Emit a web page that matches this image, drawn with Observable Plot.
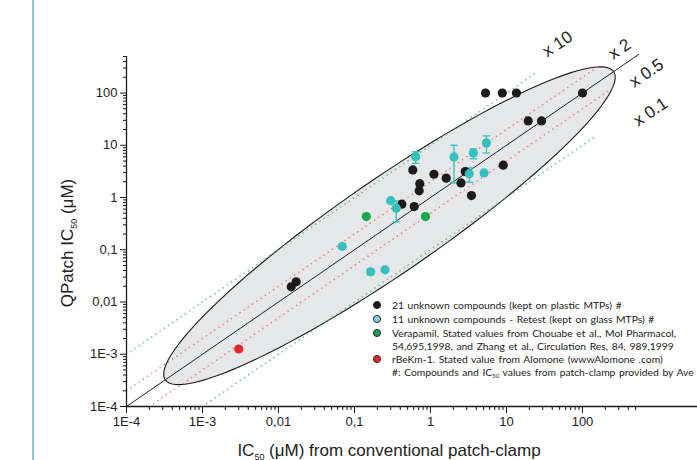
<!DOCTYPE html>
<html><head><meta charset="utf-8">
<script src="https://cdn.jsdelivr.net/npm/d3@7"></script>
<script src="https://cdn.jsdelivr.net/npm/@observablehq/plot@0.6"></script>
<style>
body{margin:0;background:#fff;}
#wrap{position:relative;width:697px;height:460px;overflow:hidden;font-family:"Liberation Sans",Arial,sans-serif;color:#222;}
#bar{position:absolute;left:32px;top:0;width:2px;height:460px;background:#8fc4d0;}
#chart{position:absolute;left:0;top:0;}
.title{position:absolute;font-size:17px;white-space:nowrap;color:#222;}
.sub{font-size:9px;vertical-align:-4px;}
#legend{position:absolute;left:370px;top:0;font-family:Lato,"Liberation Sans",sans-serif;font-size:10.3px;color:#222;}
.row{position:absolute;left:0;white-space:nowrap;height:14px;line-height:14px;}
.mk{position:absolute;left:3px;top:3px;width:8px;height:8px;border-radius:50%;border:0.8px solid #222;box-sizing:border-box;}
.tx{position:absolute;left:22px;top:0;word-spacing:1px;}
</style></head>
<body><div id="wrap"><div id="bar"></div><div id="chart"></div>
<div class="title" id="ytitle" style="left:68px;top:243px;transform:translate(-50%,-50%) rotate(-90deg);">QPatch IC<span class="sub">50</span> (μM)</div>
<div class="title" id="xtitle" style="left:389px;top:451px;transform:translate(-50%,-50%);">IC<span class="sub">50</span> (μM) from conventional patch-clamp</div>
<div id="legend"></div>
</div>
<script>
// ---- data ----
const plasticX = [5.3, 8.8, 13.5, 100, 19.3, 28.9, 0.585, 1.11, 1.61, 2.86, 9.06, 0.723, 0.71, 2.52, 3.46, 0.42, 0.61, 0.0147, 0.0171];
const plasticY = [100, 100, 100, 100, 29.2, 29.2, 3.37, 2.79, 2.35, 3.13, 4.15, 1.84, 1.34, 1.90, 1.09, 0.745, 0.67, 0.0195, 0.0243];
const glassX   = [0.638, 2.04, 3.66, 5.45, 3.24, 5.06, 0.299, 0.354, 0.0689, 0.163, 0.252];
const glassY   = [6.05, 5.97, 7.13, 11.1, 2.86, 2.95, 0.869, 0.624, 0.116, 0.0378, 0.0413];
const glassLo  = [4.5, 1.9, 5.5, 7.1, 1.97, null, null, 0.34, null, 0.033, null];
const glassHi  = [7.5, 10, 8.5, 15.1, 3.68, null, null, 0.86, null, 0.042, null];
const verapamilX = [0.143, 0.86];
const verapamilY = [0.431, 0.431];
const rbekmX = [0.0030];
const rbekmY = [0.00126];

// reference lines y = ratio * x
const ratioValues = [10, 2, 1, 0.5, 0.1];
const ratioXStart = [1e-4, 1e-4, 1e-4, 2e-4, 1e-3];
const ratioXEnd   = [25, 157, 550, 230, 157];
const ratioColors = ["#4cbc72", "#ee7070", "#222", "#ee7070", "#4cbc72"];

// ratio labels
const ratioLabelText = ["x 10", "x 2", "x 0.5", "x 0.1"];
const ratioLabelX = [46.9, 307, 695, 785];
const ratioLabelY = [866, 693, 241, 43.4];

// confidence ellipse (log10 space): center, semi-axes in decades
const ellipseCenter = [-0.54, -0.54];
const ellipseA = 2.95, ellipseB = 0.741, ellipseK = 0.473;

// ticks
const xMajor = [1e-4, 1e-3, 0.01, 0.1, 1, 10, 100];
const xLabels = ["1E-4", "1E-3", "0,01", "0,1", "1", "10", "100"];
const yMajor = [1e-4, 1e-3, 0.01, 0.1, 1, 10, 100];
const yLabels = ["1E-4", "1E-3", "0,01", "0,1", "1", "10", "100"];

// legend
const legendText = [
  "21 unknown compounds (kept on plastic MTPs) #",
  "11 unknown compounds - Retest (kept on glass MTPs) #",
  "Verapamil. Stated values from Chouabe et al., Mol Pharmacol,",
  "54,695,1998, and Zhang et al., Circulation Res, 84, 989,1999",
  "rBeKm-1. Stated value from Alomone (wwwAlomone .com)",
  "#: Compounds and IC<span style='font-size:6px;vertical-align:-2px'>50</span> values from patch-clamp provided by Ave"
];
const legendColors = ["#1b1b1b", "#8fd2ef", "#1aa350", null, "#e8262b", null];
const legendRowY = [305, 319, 332.5, 345.5, 358.5, 372];

// ---- build tables ----
const plastic = plasticX.map((x, i) => ({x, y: plasticY[i]}));
const glass = glassX.map((x, i) => ({x, y: glassY[i], lo: glassLo[i], hi: glassHi[i]}));
const glassBars = glass.filter(d => d.lo != null);
const verapamil = verapamilX.map((x, i) => ({x, y: verapamilY[i]}));
const rbekm = rbekmX.map((x, i) => ({x, y: rbekmY[i]}));
const refLines = ratioValues.flatMap((r, i) => [
  {r: i, x: ratioXStart[i], y: r * ratioXStart[i]},
  {r: i, x: ratioXEnd[i], y: r * ratioXEnd[i]}
]);
const ratioLabels = ratioLabelText.map((t, i) => ({t, x: ratioLabelX[i], y: ratioLabelY[i]}));
const ellipse = d3.range(0, 361, 3).map(deg => {
  const t = deg * Math.PI / 180;
  const lx = ellipseCenter[0] + ellipseA * Math.cos(t) + ellipseK * ellipseB * Math.sin(t);
  const ly = ellipseCenter[1] + ellipseA * Math.cos(t) - ellipseB * Math.sin(t);
  return {x: Math.pow(10, lx), y: Math.pow(10, ly)};
});
const minor = (maxV) => {
  const out = [];
  for (let e = -4; e <= 2; e++) for (let k = 2; k <= 9; k++) {
    const v = k * Math.pow(10, e);
    if (v <= maxV) out.push(v);
  }
  return out;
};
const xMinor = minor(500);
const yMinor = minor(500);
const capSymbol = {draw(ctx, size) { const r = Math.sqrt(size / Math.PI); ctx.moveTo(-r, 0); ctx.lineTo(r, 0); }};

const lineMark = (i, dash) => Plot.line(refLines.filter(d => d.r === i), {
  x: "x", y: "y", stroke: ratioColors[i], strokeWidth: dash ? 1.6 : 1,
  strokeDasharray: dash ? "0.1,5" : null, strokeLinecap: "round", strokeOpacity: dash ? 0.85 : 1
});

const chart = Plot.plot({
  width: 697, height: 460,
  marginLeft: 126, marginRight: 0, marginTop: 56, marginBottom: 54,
  x: {type: "log", domain: [1e-4, 3260]},
  y: {type: "log", domain: [1e-4, 500]},
  style: {fontFamily: "'Liberation Sans', Arial, sans-serif", background: "transparent", overflow: "visible"},
  marks: [
    Plot.line(ellipse, {x: "x", y: "y", curve: "linear-closed", fill: "#e6e7e8", stroke: "#1a1a1a", strokeWidth: 1.1}),
    lineMark(0, true), lineMark(4, true), lineMark(1, true), lineMark(3, true), lineMark(2, false),
    Plot.ruleX(glassBars, {x: "x", y1: "lo", y2: "hi", stroke: "#36bfbf", strokeWidth: 1.3}),
    Plot.dot(glassBars, {x: "x", y: "lo", symbol: capSymbol, r: 3.8, stroke: "#36bfbf", strokeWidth: 1.3}),
    Plot.dot(glassBars, {x: "x", y: "hi", symbol: capSymbol, r: 3.8, stroke: "#36bfbf", strokeWidth: 1.3}),
    Plot.dot(plastic, {x: "x", y: "y", r: 4.6, fill: "#1b1b1b"}),
    Plot.dot(glass, {x: "x", y: "y", r: 4.6, fill: "#36bfbf"}),
    Plot.dot(verapamil, {x: "x", y: "y", r: 4.6, fill: "#1aa84c"}),
    Plot.dot(rbekm, {x: "x", y: "y", r: 4.6, fill: "#e8262b"}),
    Plot.text(ratioLabels, {x: "x", y: "y", text: "t", rotate: -34, fontSize: 17, fill: "#222"}),
    Plot.ruleX([1e-4], {stroke: "#1a1a1a", strokeWidth: 1.3}),
    Plot.ruleY([1e-4], {stroke: "#1a1a1a", strokeWidth: 1.3}),
    Plot.axisX({ticks: xMajor, tickSize: 7, tickPadding: 3, fontSize: 13, label: null,
      tickFormat: d => xLabels[xMajor.findIndex(v => Math.abs(Math.log10(v) - Math.log10(d)) < 1e-6)], stroke: "#1a1a1a"}),
    Plot.axisX({ticks: xMinor, tickSize: 4, label: null, tickFormat: () => "", stroke: "#1a1a1a"}),
    Plot.axisY({ticks: yMajor, tickSize: 6, tickPadding: 3, fontSize: 13, label: null,
      tickFormat: d => yLabels[yMajor.findIndex(v => Math.abs(Math.log10(v) - Math.log10(d)) < 1e-6)], stroke: "#1a1a1a"}),
    Plot.axisY({ticks: yMinor, tickSize: 3, label: null, tickFormat: () => "", stroke: "#1a1a1a"})
  ]
});
document.getElementById("chart").appendChild(chart);

// legend (HTML overlay)
const leg = document.getElementById("legend");
legendText.forEach((t, i) => {
  const row = document.createElement("div");
  row.className = "row";
  row.style.top = (legendRowY[i] - 7) + "px";
  if (legendColors[i]) {
    const m = document.createElement("div");
    m.className = "mk";
    m.style.background = legendColors[i];
    row.appendChild(m);
  }
  const s = document.createElement("span");
  s.className = "tx";
  s.innerHTML = t;
  row.appendChild(s);
  leg.appendChild(row);
});
</script>
</body></html>
